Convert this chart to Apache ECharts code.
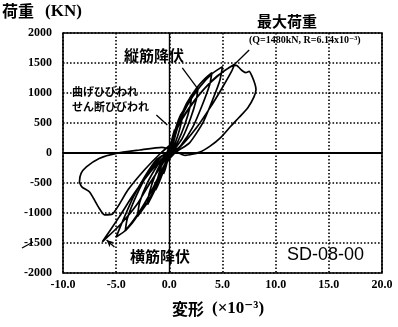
<!DOCTYPE html>
<html><head><meta charset="utf-8">
<script src="https://cdn.jsdelivr.net/npm/echarts@6/dist/echarts.min.js"></script>
<style>html,body{margin:0;padding:0;background:#fff}#c{width:398px;height:327px}</style>
</head><body><div id="c"></div>
<script>
// Load–deformation hysteresis of specimen SD-08-00
// deformation R (×10^-3) vs. load Q (kN), loading cycles in order
const cycle1 = [[0,0],[0.15,150],[0.35,300],[0.5,390],[0.4,280],[0.2,110],[0,-10],[-0.2,-150],[-0.4,-280],[-0.55,-350],[-0.42,-240],[-0.2,-80],[0,30]];
const cycle2 = [[0.3,230],[0.7,470],[1.05,630],[1.3,700],[1.15,530],[0.8,290],[0.35,80],[0,-40],[-0.4,-230],[-0.85,-440],[-1.15,-570],[-1.3,-620],[-1.15,-460],[-0.75,-220],[-0.3,-40],[0,40]];
const cycle3 = [[0.4,270],[1.0,570],[1.6,820],[2.1,960],[1.95,770],[1.45,470],[0.8,190],[0.2,20],[-0.3,-130],[-0.9,-410],[-1.5,-670],[-2.05,-860],[-1.9,-680],[-1.4,-400],[-0.75,-150],[-0.2,10]];
const cycle4 = [[0.5,310],[1.2,650],[2.0,940],[2.7,1090],[2.55,900],[2.0,580],[1.2,240],[0.4,40],[-0.2,-100],[-1.0,-440],[-2.0,-810],[-3.0,-1060],[-2.8,-830],[-2.1,-510],[-1.1,-200],[-0.2,20]];
const cycle5 = [[0.6,370],[1.5,770],[2.6,1090],[3.4,1250],[4.0,1340],[3.8,1140],[3.1,800],[2.2,430],[1.1,130],[0.2,-20],[-0.5,-210],[-1.5,-570],[-2.6,-940],[-3.5,-1170],[-4.15,-1300],[-3.95,-1090],[-3.1,-710],[-2.0,-340],[-0.8,-70],[0,40]];
const cycle6 = [[0.6,390],[1.7,800],[2.9,1110],[4.0,1320],[5.0,1440],[4.75,1210],[4.1,900],[3.2,520],[1.9,170],[0.5,0],[-0.4,-200],[-1.6,-610],[-2.9,-1000],[-4.2,-1300],[-5.0,-1400],[-4.4,-1140],[-3.4,-740],[-2.3,-390],[-1.2,-110],[0,40]];
const cycle7 = [[0.63,400],[1.88,760],[3.13,1040],[4.4,1270],[5.6,1420],[6.14,1480],[5.85,1360],[4.95,1080],[3.85,760],[2.55,420],[1.0,100],[-0.47,-61],[-1.9,-339],[-3.3,-672],[-4.7,-1060],[-6.3,-1480],[-4.65,-1200],[-3.05,-860],[-1.75,-480],[-0.6,-170],[0.2,60]];
const cycle8 = [[0.8,430],[2.0,780],[3.3,1070],[4.6,1290],[5.8,1440],[6.3,1460],[6.8,1380],[7.2,1340],[7.5,1360],[7.8,1270],[8.05,1150],[8.15,1060],[7.95,930],[7.4,760],[6.6,600],[5.8,450],[4.85,260],[3.8,110],[2.8,10],[1.5,-40],[0.3,50],[-0.7,95],[-2.8,50],[-5.0,-5],[-6.6,-90],[-7.8,-230],[-8.3,-340],[-8.45,-480],[-8.2,-570],[-7.5,-650],[-6.6,-920],[-6.1,-1030],[-5.35,-1017],[-3.9,-617],[-2.35,-283],[-0.8,0],[0.2,150]];

// notable events on the curve
const peakPoint = [6.14, 1480];          // maximum load
const vertYieldPoint = [2.63, 1083];     // longitudinal bar yield
const crackPoint = [-0.19, 467];         // flexural / shear cracking
const hoopYieldPoint = [-5.9, -1450];    // transverse bar yield

const xRange = [-10, 20];
const yRange = [-2000, 2000];

const path = [].concat(cycle1, cycle2, cycle3, cycle4, cycle5, cycle6, cycle7, cycle8);

const serif = '"Liberation Serif", "DejaVu Serif", serif';
const cjk = '"Noto Sans CJK JP", sans-serif';
const dotted = { color: '#000', width: 1.6, type: [1.6, 1.9] };
const solid = w => ({ color: '#000', width: w, type: 'solid' });

const chart = echarts.init(document.getElementById('c'), null, { renderer: 'canvas' });
chart.setOption({
  animation: false,
  backgroundColor: '#fff',
  grid: { left: 63, right: 16, top: 33, bottom: 54, show: true, borderColor: '#000', borderWidth: 1.6 },
  xAxis: {
    type: 'value', min: xRange[0], max: xRange[1], interval: 5,
    axisLine: { show: false }, axisTick: { show: false },
    axisLabel: { color: '#000', fontFamily: serif, fontWeight: 'bold', fontSize: 12, margin: 6,
      formatter: v => v.toFixed(1) },
    splitLine: { show: true, lineStyle: dotted }
  },
  yAxis: {
    type: 'value', min: yRange[0], max: yRange[1], interval: 500,
    axisLine: { show: false }, axisTick: { show: false },
    axisLabel: { color: '#000', fontFamily: serif, fontWeight: 'bold', fontSize: 12, margin: 11,
      formatter: v => String(v) },
    splitLine: { show: true, lineStyle: dotted }
  },
  series: [{
    type: 'line',
    data: path,
    showSymbol: false,
    smooth: 0.2,
    lineStyle: { color: '#000', width: 1.7 },
    z: 3,
    markLine: {
      silent: true,
      symbol: ['none', 'none'],
      label: { show: false },
      data: [
        [{ coord: [xRange[0], 0], lineStyle: solid(2.2) }, { coord: [xRange[1], 0] }],
        [{ coord: [0, yRange[0]], lineStyle: solid(1.4) }, { coord: [0, yRange[1]] }],
        [{ coord: [1.22, 1417], lineStyle: solid(1.3) }, { coord: vertYieldPoint }],
        [{ coord: [-1.22, 633], lineStyle: solid(1.3) }, { coord: crackPoint }],
        [{ coord: [7.51, 1717], lineStyle: solid(1.3) }, { coord: peakPoint }],
        [{ coord: [-5.16, -1567], lineStyle: solid(1.3) },
         { coord: hoopYieldPoint, symbol: 'arrow', symbolSize: [5, 7] }]
      ]
    }
  }],
  graphic: [
    { type: 'text', left: 2, top: 3, style: { text: '荷重', font: 'bold 16px ' + cjk, fill: '#000' } },
    { type: 'text', left: 45, top: 3, style: { text: '(KN)', font: 'bold 17px ' + serif, fill: '#000' } },
    { type: 'text', left: 124, top: 48, style: { text: '縦筋降伏', font: 'bold 15px ' + cjk, fill: '#000' } },
    { type: 'text', left: 72, top: 86, style: { text: '曲げひびわれ', font: 'bold 11px ' + cjk, fill: '#000' } },
    { type: 'text', left: 72, top: 101, style: { text: 'せん断ひびわれ', font: 'bold 11px ' + cjk, fill: '#000' } },
    { type: 'text', left: 257, top: 14, style: { text: '最大荷重', font: 'bold 15px ' + cjk, fill: '#000' } },
    { type: 'text', left: 249, top: 35, style: { text: '(Q=1480kN, R=6.14x10⁻³)', font: 'bold 10px ' + serif, fill: '#000' } },
    { type: 'text', left: 130, top: 249, style: { text: '横筋降伏', font: 'bold 15px ' + cjk, fill: '#000' } },
    { type: 'text', left: 287, top: 246, style: { text: 'SD-08-00', font: '18px "Liberation Sans", Arial, sans-serif', fill: '#000' } },
    { type: 'text', left: 172, top: 301, style: { text: '変形', font: 'bold 16px ' + cjk, fill: '#000' } },
    { type: 'text', left: 212, top: 300, style: { text: '(×10⁻³)', font: 'bold 17px ' + serif, fill: '#000' } },
    { type: 'line', shape: { x1: 22, y1: 248, x2: 33, y2: 242 }, style: { stroke: '#000', lineWidth: 1.2 } }
  ]
});
</script></body></html>
